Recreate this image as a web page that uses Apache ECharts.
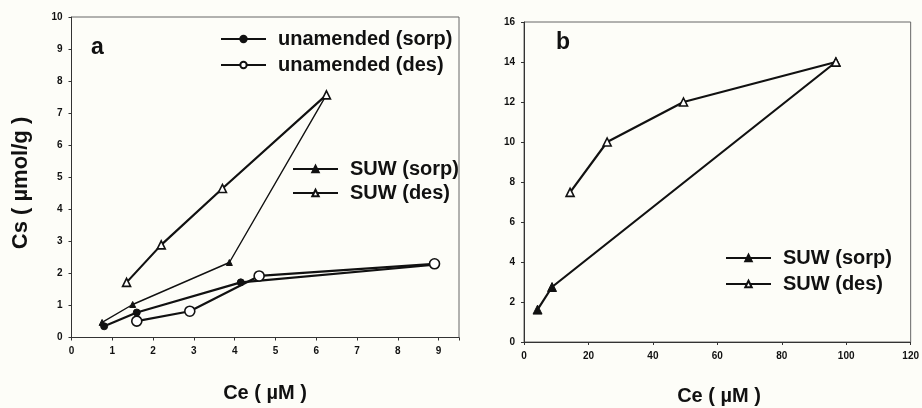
<!DOCTYPE html>
<html>
<head>
<meta charset="utf-8">
<script src="https://cdn.jsdelivr.net/npm/echarts@6/dist/echarts.min.js"></script>
<style>
  html, body { margin: 0; padding: 0; background: #fdfdf8; }
  #chart { width: 922px; height: 408px; }
</style>
</head>
<body>
<div id="chart"></div>
<script>
// Panel a: Ce (µM) vs Cs (µmol/g)
const unamendedSorp = [[0.8, 0.35], [1.6, 0.78], [4.15, 1.72], [8.9, 2.27]];
const unamendedDes  = [[1.6, 0.51], [2.9, 0.82], [4.6, 1.92], [8.9, 2.3]];
const suwSorpA      = [[0.75, 0.47], [1.5, 1.03], [3.87, 2.34], [6.25, 7.57]];
const suwDesA       = [[1.35, 1.72], [2.2, 2.89], [3.7, 4.65], [6.25, 7.57]];
// Panel b
const suwSorpB      = [[4.2, 1.62], [8.7, 2.75], [96.8, 14]];
const suwDesB       = [[14.3, 7.48], [25.8, 10], [49.5, 12], [96.8, 14]];

const xTicksA = { min: 0, max: 9.5, interval: 1 };
const yTicksA = { min: 0, max: 10, interval: 1 };
const xTicksB = { min: 0, max: 120, interval: 20 };
const yTicksB = { min: 0, max: 16, interval: 2 };

const INK = '#111';
const FONT = '"Liberation Sans", Arial, sans-serif';

const chart = echarts.init(document.getElementById('chart'));

function axisCommon(extra) {
  return Object.assign({
    type: 'value',
    splitLine: { show: false },
    axisLine: { show: true, onZero: false, lineStyle: { color: '#333', width: 1 } },
    axisTick: { show: true, length: 3, lineStyle: { color: '#333' } },
    axisLabel: {
      color: '#111', fontFamily: FONT, fontWeight: 'bold', fontSize: 10, margin: 9,
      formatter: v => (Number.isInteger(v) ? String(v) : '')
    }
  }, extra);
}

function lineSeries(name, data, sym, filled, size, lw, xi, z) {
  return {
    type: 'line', name, data, xAxisIndex: xi, yAxisIndex: xi,
    symbol: sym, symbolSize: size, showSymbol: true, z: z,
    lineStyle: { color: INK, width: lw },
    itemStyle: filled
      ? { color: INK, borderColor: INK, borderWidth: 1 }
      : { color: '#fff', borderColor: INK, borderWidth: 1.6 },
    emphasis: { disabled: true },
    animation: false
  };
}

const legendText = { color: INK, fontFamily: FONT, fontWeight: 'bold', fontSize: 20, padding: [0, 0, 0, 7] };

chart.setOption({
  backgroundColor: '#fdfdf8',
  animation: false,
  grid: [
    { left: 71.5, top: 17, width: 387.5, height: 320.5, show: true, borderColor: '#666', borderWidth: 1, backgroundColor: 'transparent' },
    { left: 524, top: 22, width: 390, height: 320, show: true, borderColor: '#666', borderWidth: 1, backgroundColor: 'transparent' }
  ],
  xAxis: [
    axisCommon(Object.assign({ gridIndex: 0 }, xTicksA)),
    axisCommon(Object.assign({ gridIndex: 1 }, xTicksB))
  ],
  yAxis: [
    axisCommon(Object.assign({ gridIndex: 0 }, yTicksA)),
    axisCommon(Object.assign({ gridIndex: 1 }, yTicksB))
  ],
  legend: [
    {
      data: ['unamended (sorp)', 'unamended (des)'], orient: 'vertical',
      left: 215, top: 24, itemWidth: 45, itemHeight: 8, itemGap: 6,
      textStyle: legendText, selectedMode: false
    },
    {
      data: ['SUW (sorp)', 'SUW (des)'], orient: 'vertical',
      left: 287, top: 154, itemWidth: 45, itemHeight: 8, itemGap: 4,
      textStyle: legendText, selectedMode: false
    },
    {
      data: ['SUW (sorp)', 'SUW (des)'], orient: 'vertical',
      left: 720, top: 243, itemWidth: 45, itemHeight: 8, itemGap: 6,
      textStyle: legendText, selectedMode: false
    }
  ],
  series: [
    lineSeries('unamended (sorp)', unamendedSorp, 'circle', true, 7, 2.2, 0, 3),
    lineSeries('unamended (des)', unamendedDes, 'circle', false, 10, 2.2, 0, 4),
    lineSeries('SUW (sorp)', suwSorpA, 'triangle', true, 6, 1.4, 0, 3),
    lineSeries('SUW (des)', suwDesA, 'triangle', false, 8, 2.2, 0, 4),
    lineSeries('SUW (sorp)', suwSorpB, 'triangle', true, 9, 2.2, 1, 3),
    lineSeries('SUW (des)', suwDesB, 'triangle', false, 8, 2.2, 1, 4)
  ],
  graphic: [
    { type: 'text', left: 91, top: 36, style: { text: 'a', fill: INK, font: 'bold 23px ' + FONT } },
    { type: 'text', left: 556, top: 31, style: { text: 'b', fill: INK, font: 'bold 23px ' + FONT } },
    {
      type: 'text', x: 21, y: 183, rotation: Math.PI / 2,
      style: { text: 'Cs ( µmol/g )', fill: INK, font: 'bold 22px ' + FONT, align: 'center', verticalAlign: 'middle' }
    },
    {
      type: 'text', x: 265, y: 393,
      style: { text: 'Ce ( µM )', fill: INK, font: 'bold 20px ' + FONT, align: 'center', verticalAlign: 'middle' }
    },
    {
      type: 'text', x: 719, y: 396,
      style: { text: 'Ce ( µM )', fill: INK, font: 'bold 20px ' + FONT, align: 'center', verticalAlign: 'middle' }
    }
  ]
});
</script>
</body>
</html>
